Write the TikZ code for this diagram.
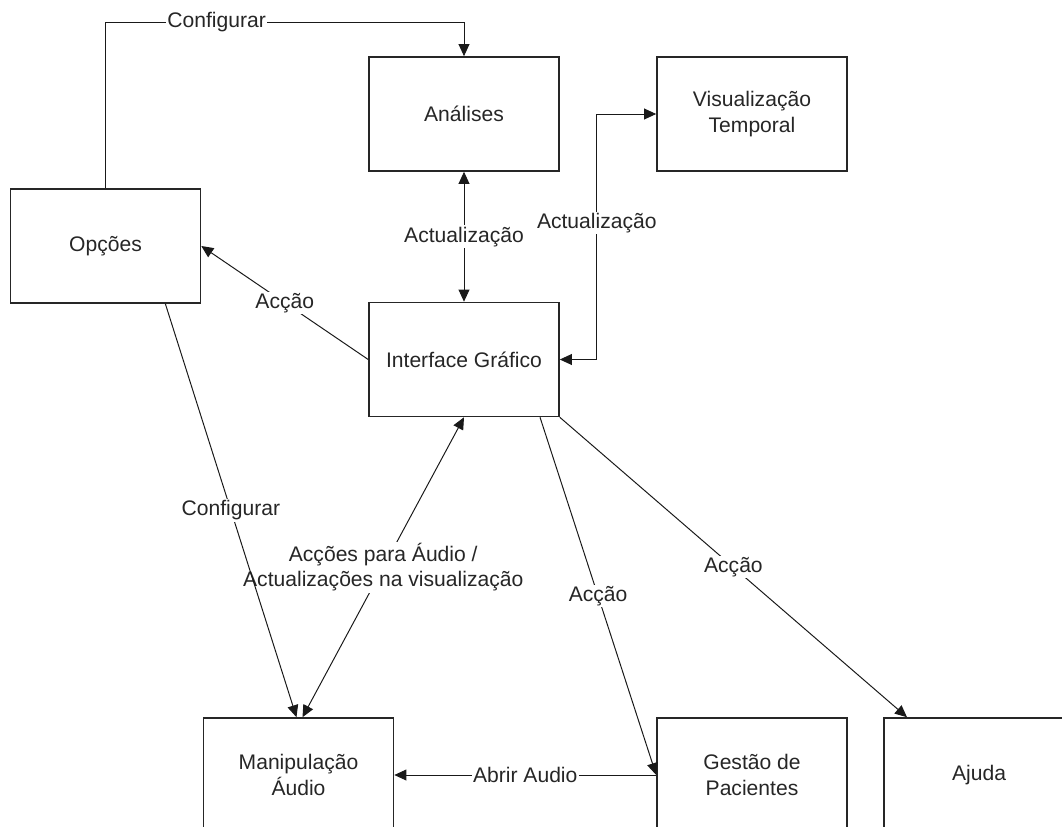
\documentclass[tikz,border=0pt]{standalone}
\usepackage{fontspec}
\setmainfont{Liberation Sans}
\usetikzlibrary{arrows.meta,positioning}

\tikzset{
  bloco/.style={draw=black!85, line width=1.1pt, minimum width=4.75cm,
    minimum height=2.85cm, align=center, text=black!85,
    font=\fontsize{15}{18}\selectfont},
  liga/.style={line width=0.7pt, draw=black!90,
    -{Triangle[length=0.3cm,width=0.27cm]}},
  liga2/.style={line width=0.7pt, draw=black!90,
    {Triangle[length=0.3cm,width=0.27cm]}-{Triangle[length=0.3cm,width=0.27cm]}},
  rotulo/.style={fill=white, inner sep=1pt, align=center, text=black!85,
    font=\fontsize{15}{18}\selectfont}
}

\begin{document}
\begin{tikzpicture}[x=0.025cm, y=-0.025cm]
  % frame of the page, boxes at the bottom are cut off
  \useasboundingbox (0,0) rectangle (1062,826);
  \clip (0,0) rectangle (1062,826);
  % Draw the blocks
  \node[bloco] (analises)  at (464,114)   {Análises};
  \node[bloco] (visual)    at (752,114)   {Visualização\\Temporal};
  \node[bloco] (opcoes)    at (105.5,246) {Opções};
  \node[bloco] (interface) at (464,359.5) {Interface Gráfico};
  \node[bloco] (manip)     at (298.5,775) {Manipulação\\Áudio};
  \node[bloco] (gestao)    at (752,775)   {Gestão de\\Pacientes};
  \node[bloco] (ajuda)     at (979,775)   {Ajuda};
  \coordinate (topo) at (300,22);
  % Connectors between the blocks
  \draw[liga] (opcoes.north) -- (opcoes.north |- topo)
    -- node[rotulo, pos=0.31] {Configurar} (analises.north |- topo) -- (analises.north);
  \draw[liga2] (analises.south) -- node[rotulo] {Actualização} (interface.north);
  \draw[liga2] (interface.east) -- ++(37,0)
    |- node[rotulo, pos=0.278] {Actualização} (visual.west);
  \draw[liga] (interface.west) -- node[rotulo] {Acção} (opcoes.east);
  \draw[liga2] ([xshift=0.1cm]manip.north)
    -- node[rotulo] {Acções para Áudio /\\Actualizações na visualização} (interface.south);
  \draw[liga] (opcoes.-44) -- node[rotulo] {Configurar} ([xshift=-0.05cm]manip.north);
  \draw[liga] ([xshift=1.9cm]interface.south) -- node[rotulo] {Acção} (gestao.west);
  \draw[liga] (interface.south east) -- node[rotulo] {Acção} ([xshift=-1.8cm]ajuda.north);
  \draw[liga] (gestao.west) -- node[rotulo] {Abrir Audio} (manip.east);
\end{tikzpicture}
\end{document}
